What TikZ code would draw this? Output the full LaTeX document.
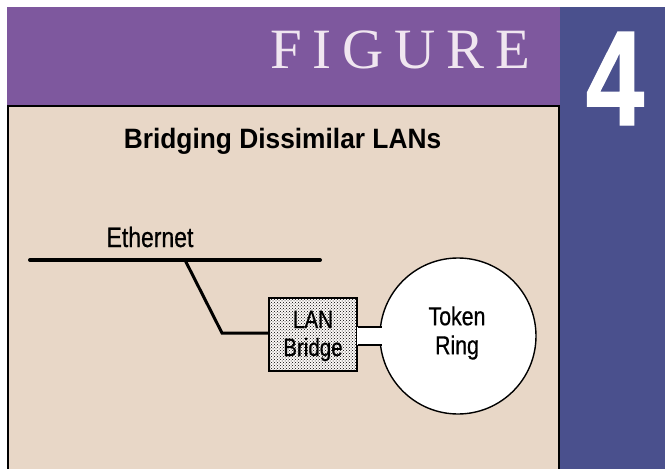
\documentclass[tikz,border=0pt]{standalone}
\usepackage{fontspec}
\usetikzlibrary{patterns}
\setmainfont{Liberation Serif}
\newfontfamily\condfont[FakeStretch=0.82,FakeBold=0.6]{Liberation Sans}
\newfontfamily\condboldfont[FakeStretch=0.94]{Liberation Sans Bold}
\newfontfamily\numfont[FakeStretch=0.77,FakeBold=1]{Liberation Sans Bold}
\newfontfamily\figfont[LetterSpace=19]{Liberation Serif}
\definecolor{bandpurple}{RGB}{126,88,158}
\definecolor{sideblue}{RGB}{74,80,141}
\definecolor{panelbeige}{RGB}{232,215,199}
\definecolor{figwhite}{RGB}{240,230,240}
\tikzset{
  lbl/.style={font=\condfont\fontsize{26}{29}\selectfont, text=black, inner sep=0pt, align=center},
  bus/.style={line width=4pt, line cap=round, black},
  tapline/.style={line width=3pt, black, line join=miter},
  thin/.style={line width=1.4pt, black},
}
\begin{document}
\begin{tikzpicture}[x=1pt,y=-1pt]
\useasboundingbox (0,0) rectangle (665,469);
\fill[white] (0,0) rectangle (665,469);
% bands
\fill[bandpurple] (7,7) rectangle (561,106);
\fill[sideblue] (560,7) rectangle (665,469);
\fill[panelbeige] (8,106) rectangle (559,469);
\draw[thin] (8,469) -- (8,106) -- (559,106) -- (559,469);
% header texts
\node[anchor=base west, inner sep=0pt, text=figwhite, font=\figfont\fontsize{57}{57}\selectfont] (fig) at (270,68) {FIGURE};
\node[anchor=base, inner sep=0pt, text=white, font=\numfont\fontsize{135}{135}\selectfont] (num) at (615,125) {4};
% title
\node[anchor=base, inner sep=0pt, font=\condboldfont\fontsize{28}{28}\selectfont] (title) at (282.5,148) {Bridging Dissimilar LANs};
% ethernet
\node[lbl, anchor=base, font=\condfont\fontsize{28}{28}\selectfont] (eth) at (150,247) {Ethernet};
\coordinate (eL) at (30,260);
\coordinate (eR) at (320,260);
\coordinate (tap) at (185,260);
\coordinate (bend) at (222,333);
% bridge box
\node[draw=black, line width=1.4pt, minimum width=88pt, minimum height=73pt, inner sep=0pt,
      fill=white!85!panelbeige, postaction={pattern=crosshatch dots, pattern color=black}] (bridge) at (313,334.5) {};
\node[lbl, font=\condfont\fontsize{25}{28}\selectfont] (bridgetext) at (313,336) {LAN\\Bridge};
% token ring
\node[circle, draw=black, line width=1.4pt, fill=white, minimum size=156pt, inner sep=0pt] (ring) at (458,336) {};
\node[lbl] (ringtext) at (457,333) {Token\\Ring};
\coordinate (c1) at (381.5,327);
\coordinate (c2) at (381.5,345);
\fill[white] (357,327) rectangle (384,345);
\draw[thin] (bridge.east |- c1) -- (c1);
\draw[thin] (bridge.east |- c2) -- (c2);
% connectors
\draw[bus] (eL) -- (eR);
\draw[tapline] (tap) -- (bend) -- (bend -| bridge.west);
\end{tikzpicture}
\end{document}
